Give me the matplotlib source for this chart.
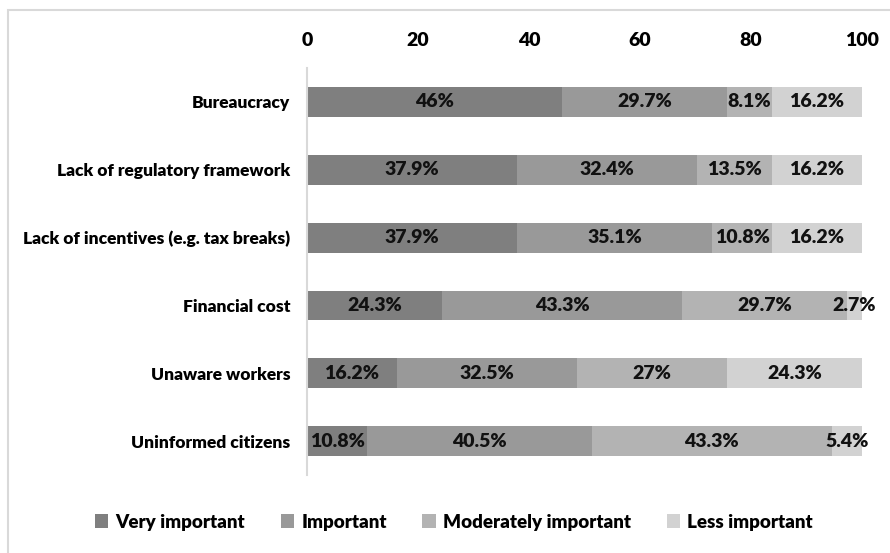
import matplotlib
matplotlib.use("Agg")
import matplotlib.pyplot as plt
from matplotlib.patches import Rectangle
import numpy as np

plt.rcParams['font.family'] = ['Lato', 'DejaVu Sans']
plt.rcParams['font.weight'] = 'heavy'

# data
categories = ["Bureaucracy", "Lack of regulatory framework",
              "Lack of incentives (e.g. tax breaks)", "Financial cost",
              "Unaware workers", "Uninformed citizens"]
very_important = [46, 37.9, 37.9, 24.3, 16.2, 10.8]
important = [29.7, 32.4, 35.1, 43.3, 32.5, 40.5]
moderately_important = [8.1, 13.5, 10.8, 29.7, 27, 43.3]
less_important = [16.2, 16.2, 16.2, 2.7, 24.3, 5.4]
series_names = ["Very important", "Important", "Moderately important", "Less important"]
colors = ["#7f7f7f", "#999999", "#b3b3b3", "#d2d2d2"]
x_ticks = [0, 20, 40, 60, 80, 100]

W = "heavy"

fig = plt.figure(figsize=(8.9, 5.53), dpi=100)
ax = fig.add_axes([0.345, 0.141, 0.6235, 0.736])

# outer frame
fig.patches.append(Rectangle((8 / 890, -0.05), 1.1, 1 - 10 / 553 + 0.05,
                             transform=fig.transFigure, fill=False,
                             edgecolor="#d9d9d9", linewidth=1.5))

y = np.arange(len(categories))
left = np.zeros(len(categories))
for name, vals, col in zip(series_names,
                           [very_important, important, moderately_important, less_important],
                           colors):
    vals = np.array(vals, dtype=float)
    bars = ax.barh(y, vals, left=left, height=0.44, color=col, label=name)
    for b, v in zip(bars, vals):
        lbl = f"{v:g}%"
        ax.text(b.get_x() + b.get_width() / 2, b.get_y() + b.get_height() / 2, lbl,
                ha="center", va="center", fontsize=14, fontweight=W, color="#111111")
    left += vals

ax.set_xlim(0, 100)
ax.set_ylim(len(categories) - 0.5, -0.5)
ax.set_yticks(y)
ax.set_yticklabels(categories, fontsize=12.5, fontweight=W)
ax.xaxis.tick_top()
ax.set_xticks(x_ticks)
ax.set_xticklabels([str(t) for t in x_ticks], fontsize=14, fontweight=W)
ax.tick_params(axis="x", length=0, pad=14)
ax.tick_params(axis="y", length=0, pad=12)

for s in ["top", "right", "bottom"]:
    ax.spines[s].set_visible(False)
ax.spines["left"].set_color("#d9d9d9")
ax.spines["left"].set_linewidth(1.5)

leg = fig.legend(loc="center", bbox_to_anchor=(0.51, 0.056), ncol=4, frameon=False,
                 prop={"size": 13.5, "weight": W}, handlelength=0.7, handleheight=0.7,
                 handletextpad=0.4, columnspacing=1.9)

fig.savefig("out.png", dpi=100)
